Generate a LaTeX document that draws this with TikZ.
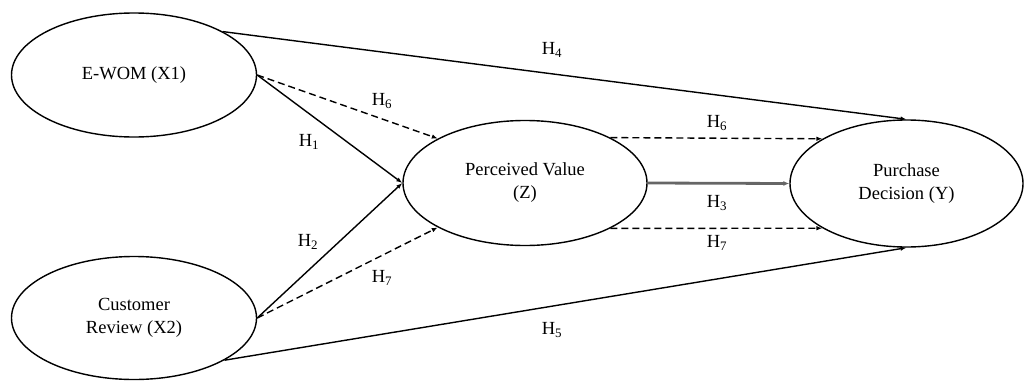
\documentclass[tikz,border=0pt]{standalone}
\usepackage{fontspec}
\setmainfont{Liberation Serif}
\usepackage{tikz}
\usetikzlibrary{arrows.meta, positioning, shapes.geometric}

\begin{document}
\begin{tikzpicture}[
  x=1pt, y=-1pt,
  every node/.style={font=\fontsize{18.5}{23}\selectfont},
  construct/.style={ellipse, draw=black, line width=1.4pt, align=center, inner sep=0pt,
                    minimum width=245pt, minimum height=124pt},
  hyp/.style={inner sep=0pt},
  arr/.style={-{Latex[length=6pt, width=4.5pt]}, line width=1.4pt, black},
  darr/.style={arr, dash pattern=on 7pt off 4pt},
  marr/.style={-{Latex[length=6pt, width=5pt]}, line width=2.8pt, black!60}
]
\useasboundingbox (0,0) rectangle (1024,380);

\node[construct] (X1) at (134,75) {E-WOM (X1)};
\node[construct, minimum height=123pt] (X2) at (134,318) {Customer\\ Review (X2)};
\node[construct, minimum width=244pt, minimum height=125pt] (Z) at (525,183) {Perceived Value\\ (Z)};
\node[construct, minimum width=233pt, minimum height=127pt] (Y) at (906.5,183.5) {Purchase\\ Decision (Y)};

\draw[arr] (X1.26) -- (Y.north);
\draw[arr] (X2.-25) -- (Y.south);
\draw[arr] (X1.east) -- (Z.west);
\draw[arr] (X2.east) -- (Z.west);
\draw[darr] (X1.east) -- (Z.153);
\draw[darr] (X2.east) -- (Z.207);
\draw[darr] (Z.28) -- (Y.152);
\draw[darr] (Z.-28) -- (Y.-152);
\draw[marr] (Z.east) -- (Y.west);

\node[hyp] (H4) at (552,50) {H\textsubscript{4}};
\node[hyp] (H6a) at (382,101) {H\textsubscript{6}};
\node[hyp] (H1) at (309,142) {H\textsubscript{1}};
\node[hyp] (H2) at (308,242) {H\textsubscript{2}};
\node[hyp] (H7a) at (382,278) {H\textsubscript{7}};
\node[hyp] (H6b) at (717,123) {H\textsubscript{6}};
\node[hyp] (H3) at (717,203) {H\textsubscript{3}};
\node[hyp] (H7b) at (717,243) {H\textsubscript{7}};
\node[hyp] (H5) at (552,330) {H\textsubscript{5}};
\end{tikzpicture}
\end{document}
